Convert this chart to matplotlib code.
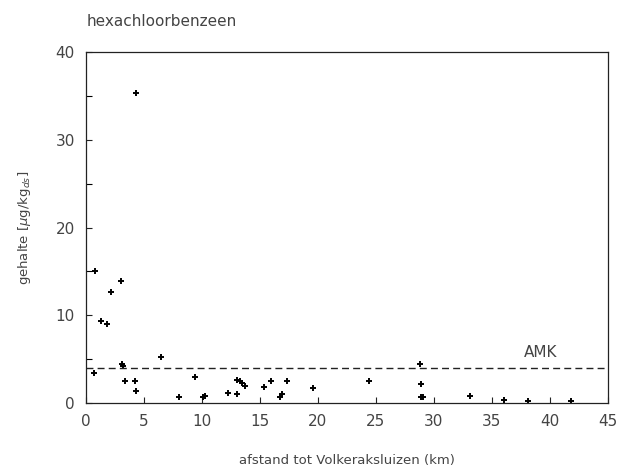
import numpy as np
import matplotlib
matplotlib.use("Agg")
import matplotlib.pyplot as plt
from matplotlib.ticker import MultipleLocator

# afstand (km) en gehalte (ug/kg ds)
afstand = [0.8, 0.7, 1.3, 1.8, 2.2, 3.0, 3.1, 3.2, 3.35, 4.2, 4.35, 4.35,
           6.5, 8.0, 9.4, 10.1, 10.3, 12.3, 13.0, 13.0, 13.3, 13.5, 13.7,
           15.4, 15.95, 16.7, 16.9, 17.35, 19.6, 24.4, 28.8, 28.9, 28.9,
           29.1, 33.1, 36.1, 38.1, 41.8]
gehalte = [15.0, 3.45, 9.4, 9.0, 12.6, 13.9, 4.4, 4.2, 2.5, 2.5, 1.4, 35.3,
           5.3, 0.65, 3.0, 0.65, 0.8, 1.2, 1.0, 2.6, 2.5, 2.3, 1.9,
           1.8, 2.5, 0.7, 1.0, 2.5, 1.7, 2.5, 4.5, 2.2, 0.7,
           0.7, 0.8, 0.4, 0.2, 0.25]
amk = 4.0

tc = '#444444'
fig = plt.figure(figsize=(6.22, 4.72), dpi=100)
ax = fig.add_axes([0.138, 0.146, 0.839, 0.744])

ax.plot(afstand, gehalte, linestyle='none', marker='+', color='black',
        markersize=5, markeredgewidth=1.4)
ax.axhline(amk, color='#222222', linestyle=(0, (5, 3)), linewidth=1.0)
ax.text(39.2, 4.9, 'AMK', fontsize=11, color=tc, ha='center', va='bottom')

ax.set_xlim(0, 45)
ax.set_ylim(0, 40)
ax.xaxis.set_major_locator(MultipleLocator(5))
ax.yaxis.set_major_locator(MultipleLocator(10))
ax.yaxis.set_minor_locator(MultipleLocator(5))
ax.tick_params(direction='in', length=4, width=0.8, colors='#222222',
               labelcolor=tc, labelsize=11, pad=8)
ax.tick_params(which='minor', direction='in', length=4, width=0.8)
for s in ax.spines.values():
    s.set_linewidth(0.9)
    s.set_color('#222222')

ax.set_xlabel('afstand tot Volkeraksluizen (km)', fontsize=9.5, color=tc,
              labelpad=18)
ax.set_ylabel(r'gehalte [$\mu$g/kg$_{ds}$]', fontsize=9.5, color=tc,
              labelpad=16)
fig.text(0.14, 0.955, 'hexachloorbenzeen', fontsize=11, color=tc,
         ha='left', va='center')

fig.savefig('out.png', dpi=100)
